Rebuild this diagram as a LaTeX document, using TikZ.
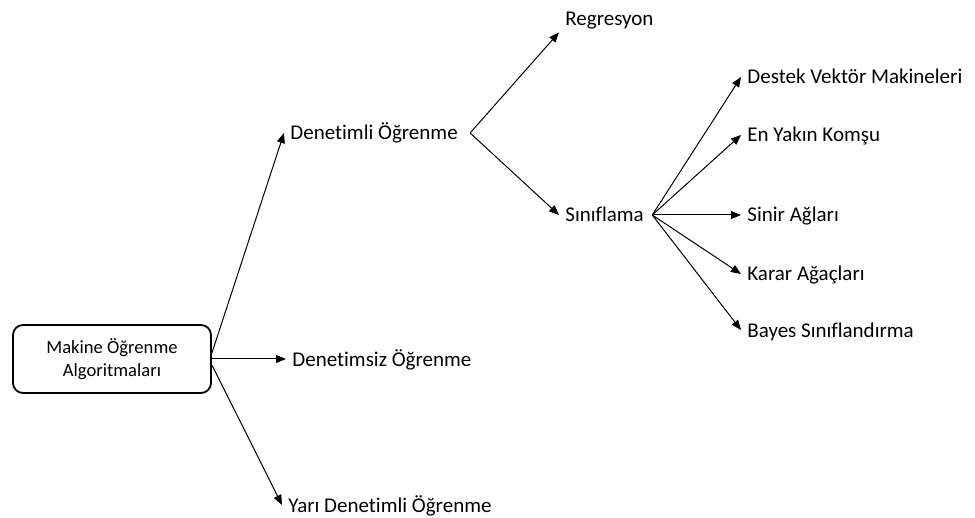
\documentclass[tikz,border=0pt]{standalone}
\usepackage{fontspec}
\setmainfont{Carlito}[Ligatures=NoCommon]
\usetikzlibrary{arrows.meta}

\begin{document}
\begin{tikzpicture}[x=0.5pt, y=-0.5pt,
    mlRootStyle/.style={draw, line width=0.9pt, rounded corners=5pt, minimum width=99pt, minimum height=34pt, align=center, font=\fontsize{9.3}{11.5}\selectfont},
    mlLeafStyle/.style={anchor=west, inner xsep=3pt, inner ysep=3pt, text height=7pt, text depth=0pt, font=\fontsize{10.5}{12.6}\selectfont},
    mlArrowStyle/.style={-{Triangle[length=5pt, width=4pt]}, line width=0.5pt}]
    \useasboundingbox (0,0) rectangle (975,518);

    % Root node
    \node[mlRootStyle] (root) at (112, 359) {Makine Öğrenme\\Algoritmaları};

    % Learning types
    \node[mlLeafStyle] (dn) at (284, 133) {Denetimli Öğrenme};
    \node[mlLeafStyle] (dz) at (286, 359) {Denetimsiz Öğrenme};
    \node[mlLeafStyle] (yd) at (282, 505) {Yarı Denetimli Öğrenme};

    % Supervised branch
    \node[mlLeafStyle] (reg) at (559, 19) {Regresyon};
    \node[mlLeafStyle] (sf) at (559, 215) {Sınıflama};

    % Classification methods
    \node[mlLeafStyle] (svm) at (741, 77) {Destek Vektör Makineleri};
    \node[mlLeafStyle] (knn) at (741, 135) {En Yakın Komşu};
    \node[mlLeafStyle] (ysa) at (741, 215) {Sinir Ağları};
    \node[mlLeafStyle] (ka) at (741, 274) {Karar Ağaçları};
    \node[mlLeafStyle] (bay) at (741, 330) {Bayes Sınıflandırma};

    \draw[mlArrowStyle] ([yshift=3pt]root.east) -- (dn.west);
    \draw[mlArrowStyle] (root.east) -- (dz.west);
    \draw[mlArrowStyle] ([yshift=-3pt]root.east) -- (yd.west);
    \draw[mlArrowStyle] ([xshift=3pt]dn.east) -- (reg.south west);
    \draw[mlArrowStyle] ([xshift=3pt]dn.east) -- (sf.west);
    \draw[mlArrowStyle] ([xshift=1pt]sf.east) -- (svm.west);
    \draw[mlArrowStyle] ([xshift=1pt]sf.east) -- (knn.west);
    \draw[mlArrowStyle] ([xshift=1pt]sf.east) -- (ysa.west);
    \draw[mlArrowStyle] ([xshift=1pt]sf.east) -- (ka.west);
    \draw[mlArrowStyle] ([xshift=1pt]sf.east) -- (bay.west);
\end{tikzpicture}
\end{document}
